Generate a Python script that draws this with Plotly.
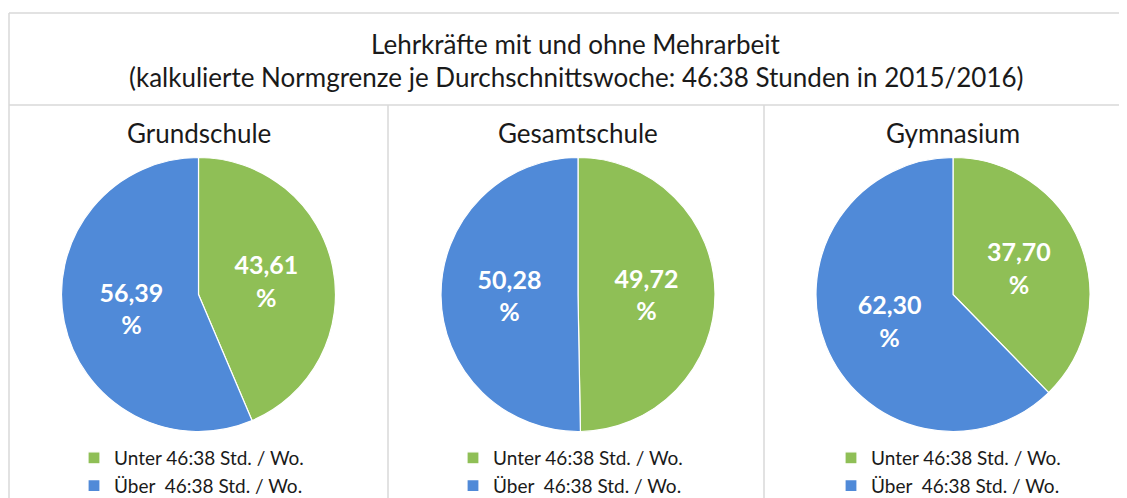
import plotly.graph_objects as go

schools = ["Grundschule", "Gesamtschule", "Gymnasium"]
labels = ["Unter 46:38 Std. / Wo.", "Über\u00a0 46:38 Std. / Wo."]
unter = [43.61, 49.72, 37.70]
ueber = [56.39, 50.28, 62.30]
colors = ["#8FBF56", "#508AD8"]
title_line1 = "Lehrkräfte mit und ohne Mehrarbeit"
title_line2 = "(kalkulierte Normgrenze je Durchschnittswoche: 46:38 Stunden in 2015/2016)"

OFF = 8  # page body margin
W, H = 1127 - OFF, 498 - OFF
FONT = "Lato"
TXT = "#1a1a1a"

pie_cx = [198.5, 578, 953]
pie_cy = 294.5
pie_r = 137

def px(x):
    return (x - OFF) / W

def py(y):
    return 1 - (y - OFF) / H

fig = go.Figure()
legend_names = ["legend", "legend2", "legend3"]
for i, s in enumerate(schools):
    fig.add_trace(go.Pie(
        labels=[lab + "\u200b" * i for lab in labels],
        values=[unter[i], ueber[i]],
        sort=False,
        direction="clockwise",
        rotation=0,
        marker=dict(colors=colors, line=dict(color="white", width=1.2)),
        texttemplate="<b>%{value:.2f}</b><br><b>%</b>",
        textposition="inside",
        insidetextorientation="horizontal",
        textfont=dict(family=FONT, size=25, color="white"),
        hoverinfo="label+value",
        domain=dict(x=[px(pie_cx[i] - pie_r), px(pie_cx[i] + pie_r)],
                    y=[py(pie_cy + pie_r), py(pie_cy - pie_r)]),
        legend=legend_names[i],
        showlegend=True,
        name=s,
    ))

layout_legends = {}
legend_left = [74, 453, 831]
for i, ln in enumerate(legend_names):
    layout_legends[ln] = dict(
        x=px(legend_left[i]), xanchor="left",
        y=py(439), yanchor="top",
        font=dict(family=FONT, size=19, color=TXT),
        bgcolor="rgba(0,0,0,0)",
        traceorder="normal",
        itemclick=False,
        itemdoubleclick=False,
    )

shapes = []
line_style = dict(color="#D9D9D9", width=1.5)
shapes.append(dict(type="line", xref="paper", yref="paper", x0=px(9), x1=px(1140), y0=py(13), y1=py(13), line=line_style))
shapes.append(dict(type="line", xref="paper", yref="paper", x0=px(9), x1=px(9), y0=py(13), y1=py(510), line=line_style))
shapes.append(dict(type="line", xref="paper", yref="paper", x0=px(9), x1=px(1140), y0=py(105), y1=py(105), line=line_style))
for xs in [388, 764]:
    shapes.append(dict(type="line", xref="paper", yref="paper", x0=px(xs), x1=px(xs), y0=py(105), y1=py(510), line=line_style))

annotations = [
    dict(text=title_line1, x=px(576), y=py(44), xref="paper", yref="paper", showarrow=False,
         font=dict(family=FONT, size=26, color=TXT), xanchor="center", yanchor="middle"),
    dict(text=title_line2, x=px(576), y=py(77), xref="paper", yref="paper", showarrow=False,
         font=dict(family=FONT, size=26, color=TXT), xanchor="center", yanchor="middle"),
]
for i, s in enumerate(schools):
    annotations.append(dict(text=s, x=px(pie_cx[i]), y=py(133), xref="paper", yref="paper", showarrow=False,
                            font=dict(family=FONT, size=26, color=TXT), xanchor="center", yanchor="middle"))

fig.update_layout(
    width=W, height=H,
    margin=dict(l=0, r=0, t=0, b=0, autoexpand=False),
    paper_bgcolor="white",
    plot_bgcolor="white",
    separators=",.",
    shapes=shapes,
    annotations=annotations,
    **layout_legends,
)

fig.write_html("out.html")
